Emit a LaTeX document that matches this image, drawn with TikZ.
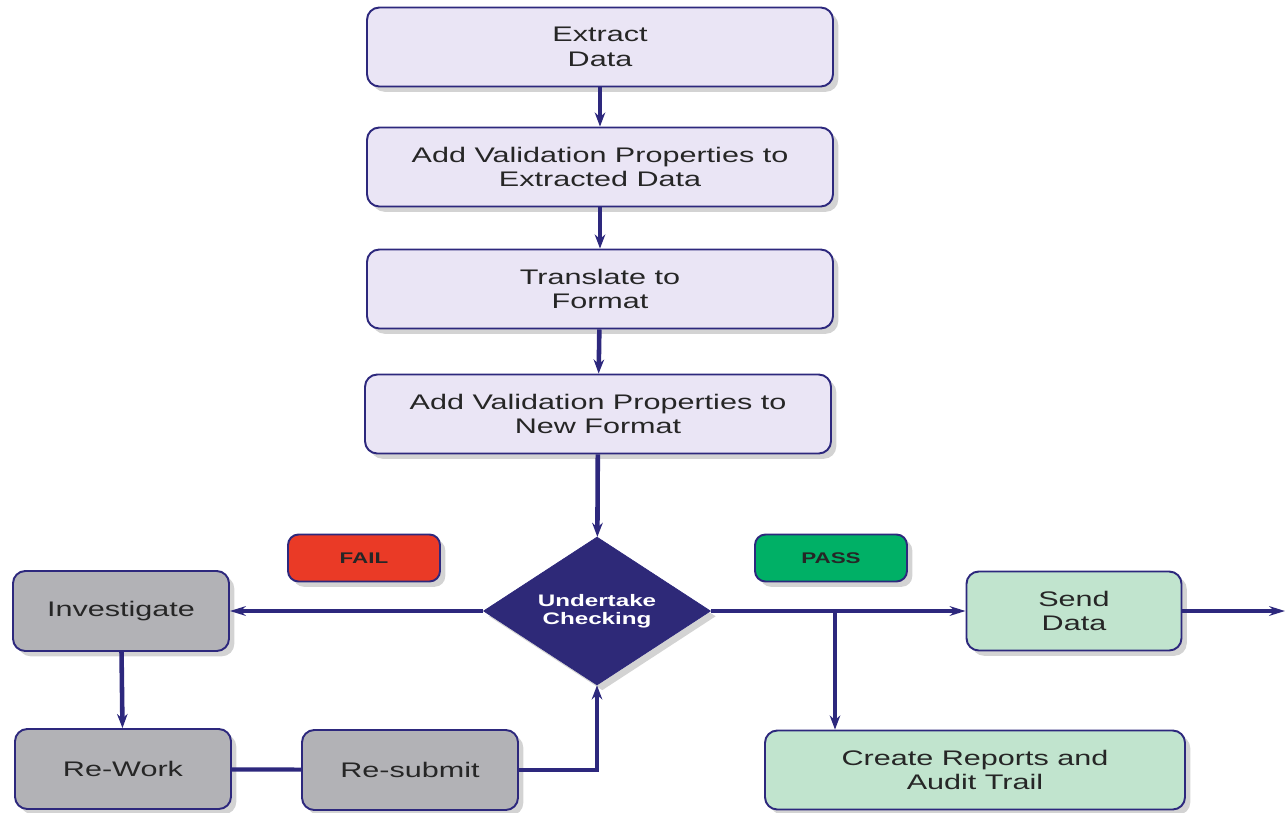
\documentclass[tikz,border=0pt]{standalone}
\usepackage{fontspec}
\setmainfont{Liberation Sans}
\newfontfamily\widefont[FakeStretch=1.45]{Liberation Sans}
\usetikzlibrary{arrows.meta, shapes.geometric, shadows}
\definecolor{stepfill}{RGB}{234,229,245}
\definecolor{navyborder}{RGB}{45,40,125}
\definecolor{loopfill}{RGB}{178,178,182}
\definecolor{passfill}{RGB}{193,228,206}
\definecolor{failred}{RGB}{234,58,38}
\definecolor{passgreen}{RGB}{0,176,102}
\definecolor{checkfill}{RGB}{46,41,120}
\tikzset{
  boxshadow/.style={drop shadow={opacity=0.35, shadow xshift=3pt, shadow yshift=-3pt}},
  stepbox/.style={draw=navyborder, fill=stepfill, rounded corners=7pt, minimum height=79*0.02cm, minimum width=466*0.02cm, font=\widefont\fontsize{12}{14}\selectfont, text=black!85, align=center, line width=1.1pt, boxshadow},
  loopbox/.style={stepbox, fill=loopfill, minimum width=216*0.02cm, minimum height=80*0.02cm},
  sendbox/.style={stepbox, fill=passfill},
  tagbox/.style={draw=navyborder, rounded corners=6pt, minimum height=47*0.02cm, minimum width=152*0.02cm, font=\widefont\fontsize{8.8}{10}\selectfont\bfseries, text=black!85, line width=1.1pt, boxshadow},
  checkbox/.style={diamond, draw=navyborder, fill=checkfill, aspect=1.53, minimum width=227*0.02cm, minimum height=148*0.02cm, inner sep=0pt, font=\widefont\fontsize{9.5}{10.5}\selectfont\bfseries, text=white, align=center, boxshadow},
  flow/.style={-{Stealth[length=8pt, width=6pt]}, line width=2.6pt, color=navyborder},
  branch/.style={-{Stealth[length=9pt, width=5.5pt]}, line width=1.9pt, color=navyborder},
  joinline/.style={line width=2.4pt, color=navyborder},
}
\begin{document}
\begin{tikzpicture}[x=0.02cm, y=-0.02cm]
  \useasboundingbox (0,0) rectangle (1285,812);

  % --- Main sequence ---
  \node[stepbox] (extract) at (600,47) {Extract\\Data};
  \node[stepbox] (addval) at (600,167) {Add Validation Properties to\\Extracted Data};
  \node[stepbox] (translate) at (600,289) {Translate to\\Format};
  \node[stepbox] (newval) at (598,414) {Add Validation Properties to\\New Format};

  % --- Decision ---
  \node[checkbox] (check) at (597,611) {Undertake\\Checking};
  \node[tagbox, fill=failred] (fail) at (364,558) {FAIL};
  \node[tagbox, fill=passgreen] (pass) at (831,558) {PASS};

  % --- Fail branch ---
  \node[loopbox] (investigate) at (121,611) {Investigate};
  \node[loopbox] (rework) at (123,769) {Re-Work};
  \node[loopbox] (resubmit) at (410,770) {Re-submit};

  % --- Pass branch ---
  \node[sendbox, minimum width=215*0.02cm] (send) at (1074,611) {Send\\Data};
  \node[sendbox, minimum width=420*0.02cm] (reports) at (975,770) {Create Reports and\\Audit Trail};
  \coordinate (split) at (835,611);
  \coordinate (out) at (1285,611);

  % --- Arrows ---
  \draw[flow] (extract) -- (addval);
  \draw[flow] (addval) -- (translate);
  \draw[flow] (translate) -- (newval);
  \draw[flow] (newval) -- (check);
  \draw[branch] (check.west) -- (investigate.east);
  \draw[branch] (check.east) -- (send.west);
  \draw[flow] (split) -- (split |- reports.north);
  \draw[branch] (send.east) -- (out);
  \draw[flow] (investigate) -- (rework);
  \draw[joinline] (rework) -- (resubmit);
  \draw[flow] (resubmit.east) -| (check.south);

\end{tikzpicture}
\end{document}
